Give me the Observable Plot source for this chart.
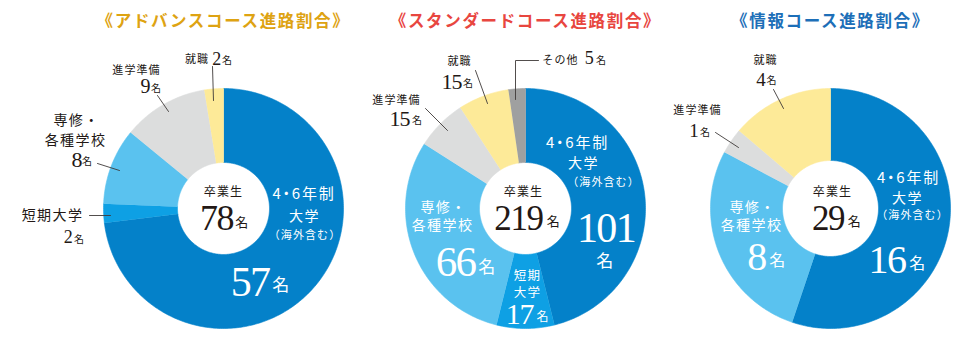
<!DOCTYPE html>
<html><head><meta charset="utf-8">
<script src="https://cdn.jsdelivr.net/npm/d3@7"></script>
<script src="https://cdn.jsdelivr.net/npm/@observablehq/plot@0.6"></script>
<style>
body{margin:0;background:#fff;}
g[font-family^="'Noto Sans CJK JP'"] text{letter-spacing:0.1em;}
g[font-family$="palt"] text{font-feature-settings:"palt";letter-spacing:0.12em;}
g[font-family^="'Liberation Serif'"] text{letter-spacing:-0.04em;}
</style></head><body><div id="chart"></div>
<script>
// ---- data ----
const courseTitles = ["《アドバンスコース進路割合》", "《スタンダードコース進路割合》", "《情報コース進路割合》"];
const categories = ["4・6年制大学", "短期大学", "専修・各種学校", "進学準備", "就職", "その他"];
const advancedValues = [57, 2, 8, 9, 2, 0];
const standardValues = [101, 17, 66, 15, 15, 5];
const infoValues = [16, 0, 8, 1, 4, 0];
const seriesValues = [advancedValues, standardValues, infoValues];
const totalLabel = "卒業生";
const unit = "名";

// ---- styles / layout ----
const sliceColors = ["#0481c9", "#0ea0e4", "#5ac2ef", "#dcdddd", "#fdea98", "#9fa0a0"];
const titleColors = ["#dea312", "#e8463f", "#1d6fb8"];
const centers = [[223, 208], [525, 208], [830, 208]];
const outerR = 120;
const innerR = [46, 46, 48];
const ink = "#231815";

// name-label lines (text, position, size, colour k=black/w=white, p = proportional dot)
const nameLabels = [
  {t:"就職", x:196.5, y:59, s:11, c:"k"},
  {t:"進学準備", x:136, y:70, s:11, c:"k"},
  {t:"専修・", x:76, y:120, s:14, c:"k"},
  {t:"各種学校", x:75, y:140, s:14, c:"k"},
  {t:"短期大学", x:52, y:215, s:14, c:"k"},
  {t:totalLabel, x:223, y:192, s:12, c:"k"},
  {t:"4・6年制", x:303.5, y:194, s:15, c:"w", p:true},
  {t:"大学", x:304, y:216, s:14, c:"w"},
  {t:"（海外含む）", x:304.5, y:235, s:11, c:"w"},

  {t:"就職", x:459, y:61, s:11, c:"k"},
  {t:"その他", x:560, y:60, s:11, c:"k"},
  {t:"進学準備", x:396, y:100, s:11, c:"k"},
  {t:totalLabel, x:523, y:192, s:12, c:"k"},
  {t:"4・6年制", x:577, y:143, s:15, c:"w", p:true},
  {t:"大学", x:583, y:163, s:14, c:"w"},
  {t:"（海外含む）", x:603, y:182, s:11, c:"w"},
  {t:"専修・", x:443, y:207, s:14, c:"w"},
  {t:"各種学校", x:442, y:225, s:14, c:"w"},
  {t:"短期", x:527, y:275.5, s:12.5, c:"w"},
  {t:"大学", x:527, y:292.5, s:12.5, c:"w"},

  {t:"就職", x:765, y:60, s:11, c:"k"},
  {t:"進学準備", x:697, y:110, s:11, c:"k"},
  {t:totalLabel, x:832, y:192, s:12, c:"k"},
  {t:"4・6年制", x:908, y:178, s:15, c:"w", p:true},
  {t:"大学", x:907, y:198, s:14, c:"w"},
  {t:"（海外含む）", x:912, y:215, s:11, c:"w"},
  {t:"専修・", x:752, y:207, s:14, c:"w"},
  {t:"各種学校", x:751, y:225, s:14, c:"w"}
];

// number labels: chart, category index (-1 = total), number pos/size, unit pos/size
const numberLayout = [
  {ch:0, cat:4, x:216, y:59, s:18, ux:227, uy:60, us:10, c:"k"},
  {ch:0, cat:3, x:144.5, y:86, s:20, ux:156, uy:88, us:10, c:"k"},
  {ch:0, cat:2, x:76, y:159, s:22, ux:87, uy:161, us:10, c:"k"},
  {ch:0, cat:1, x:67.5, y:237, s:18, ux:79, uy:239, us:10, c:"k"},
  {ch:0, cat:-1, x:216, y:218, s:36, ux:242, uy:222, us:13, c:"k"},
  {ch:0, cat:0, x:249.5, y:282, s:42, ux:281, uy:285, us:17, c:"w"},

  {ch:1, cat:4, x:451, y:81, s:22, ux:468, uy:83, us:10, c:"k"},
  {ch:1, cat:5, x:588.5, y:58, s:18, ux:601, uy:60, us:10, c:"k"},
  {ch:1, cat:3, x:399, y:118, s:22, ux:417, uy:120, us:10, c:"k"},
  {ch:1, cat:-1, x:518, y:218, s:35, ux:553.5, uy:221, us:13, c:"k"},
  {ch:1, cat:0, x:605.5, y:228, s:42, ux:605, uy:261, us:17, c:"w"},
  {ch:1, cat:2, x:455, y:262, s:43, ux:487, uy:267, us:17, c:"w"},
  {ch:1, cat:1, x:519, y:313.5, s:30, ux:542.5, uy:317, us:12, c:"w"},

  {ch:2, cat:4, x:760, y:79, s:19, ux:771.5, uy:80, us:10, c:"k"},
  {ch:2, cat:3, x:693, y:130, s:19, ux:705, uy:132, us:10, c:"k"},
  {ch:2, cat:-1, x:827.5, y:218, s:35, ux:854.5, uy:221, us:13, c:"k"},
  {ch:2, cat:0, x:886.5, y:260, s:40, ux:917.5, uy:263, us:16, c:"w"},
  {ch:2, cat:2, x:756, y:257, s:40, ux:777.5, uy:260, us:16, c:"w"}
];

const leaderLines = [
  [[212,66],[213,100]], [[157,95],[168,111]], [[97,163],[119,170]], [[89,215],[110,215]],
  [[475,70],[487,103]], [[538,60],[515,60],[515,99]], [[425,108],[447,130]],
  [[773,89],[783,108]], [[715,132],[738,147]]
];
const titleY = 21;

// ---- build slice polygons from values ----
const slicePts = [];
seriesValues.forEach((vals, ch) => {
  const total = d3.sum(vals);
  const [cx, cy] = centers[ch];
  let acc = 0;
  vals.forEach((v, k) => {
    if (v <= 0) return;
    const a0 = acc / total * 2 * Math.PI;
    acc += v;
    const a1 = acc / total * 2 * Math.PI;
    const n = Math.max(2, Math.ceil((a1 - a0) / (Math.PI / 180)) + 1);
    const id = ch + "-" + k;
    for (let i = 0; i < n; i++) {
      const a = a0 + (a1 - a0) * i / (n - 1);
      slicePts.push({id, cat: categories[k], x: cx + outerR * Math.sin(a), y: cy - outerR * Math.cos(a)});
    }
    for (let i = n - 1; i >= 0; i--) {
      const a = a0 + (a1 - a0) * i / (n - 1);
      slicePts.push({id, cat: categories[k], x: cx + innerR[ch] * Math.sin(a), y: cy - innerR[ch] * Math.cos(a)});
    }
  });
});

const numbers = numberLayout.map(d => ({...d,
  t: String(d.cat < 0 ? d3.sum(seriesValues[d.ch]) : seriesValues[d.ch][d.cat])}));

const leaderPts = leaderLines.flatMap((pts, i) => pts.map(([x, y]) => ({i, x, y})));

const SANS = "'Noto Sans CJK JP', 'Noto Sans', sans-serif";
const SANS_P = "'Noto Sans CJK JP', sans-serif, palt";
const SERIF = "'Liberation Serif', 'DejaVu Serif', serif";

const marks = [
  Plot.line(slicePts, {x: "x", y: "y", z: "id", fill: "cat", stroke: "cat", strokeWidth: 0.6}),
  Plot.line(leaderPts, {x: "x", y: "y", z: "i", stroke: "#3e3a39", strokeWidth: 0.9}),
  ...courseTitles.map((t, i) => Plot.text([t], {x: () => centers[i][0], y: () => titleY, text: d => d,
      fontSize: 16.5, fontWeight: 700, fontFamily: SANS, fill: titleColors[i]})),
  Plot.text(nameLabels.filter(d => d.c === "k"), {x: "x", y: "y", text: "t", fontSize: "s", fontFamily: SANS, fill: ink}),
  Plot.text(nameLabels.filter(d => d.c === "w" && !d.p), {x: "x", y: "y", text: "t", fontSize: "s", fontFamily: SANS, fill: "#fff"}),
  Plot.text(nameLabels.filter(d => d.c === "w" && d.p), {x: "x", y: "y", text: "t", fontSize: "s", fontFamily: SANS_P, fill: "#fff"}),
  Plot.text(numbers.filter(d => d.c === "k"), {x: "x", y: "y", text: "t", fontSize: "s", fontFamily: SERIF, fill: ink}),
  Plot.text(numbers.filter(d => d.c === "w"), {x: "x", y: "y", text: "t", fontSize: "s", fontFamily: SERIF, fill: "#fff"}),
  Plot.text(numbers.filter(d => d.c === "k"), {x: "ux", y: "uy", text: () => unit, fontSize: "us", fontFamily: SANS, fill: ink}),
  Plot.text(numbers.filter(d => d.c === "w"), {x: "ux", y: "uy", text: () => unit, fontSize: "us", fontFamily: SANS, fill: "#fff"})
];

const chart = Plot.plot({
  width: 970, height: 363,
  margin: 0,
  x: {domain: [0, 970], range: [0, 970], axis: null},
  y: {domain: [0, 363], range: [0, 363], axis: null},
  color: {domain: categories, range: sliceColors},
  style: {background: "#fff"},
  marks
});
document.getElementById("chart").append(chart);
</script></body></html>
